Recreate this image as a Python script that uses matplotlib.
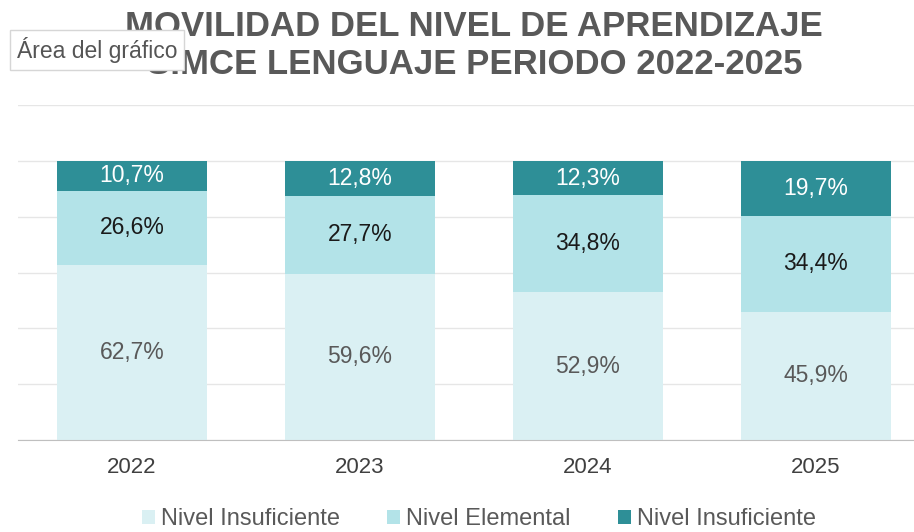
import numpy as np
import matplotlib.pyplot as plt

years = ['2022', '2023', '2024', '2025']
insuficiente = [62.7, 59.6, 52.9, 45.9]
elemental = [26.6, 27.7, 34.8, 34.4]
adecuado = [10.7, 12.8, 12.3, 19.7]
legend_labels = ['Nivel Insuficiente', 'Nivel Elemental', 'Nivel Insuficiente']

colors = ['#DAF0F3', '#B3E3E8', '#2E8F97']
text_colors = ['#595959', '#1A1A1A', '#FFFFFF']

plt.rcParams['font.family'] = ['Liberation Sans', 'DejaVu Sans']

fig = plt.figure(figsize=(9.14, 5.32), dpi=100)
ax = fig.add_axes([18 / 914, 92 / 532, 896 / 914, 335 / 532])

x = np.arange(len(years))
bottom = np.zeros(len(years))
for vals, col, tcol, lab in zip([insuficiente, elemental, adecuado], colors, text_colors, legend_labels):
    vals = np.array(vals)
    ax.bar(x, vals, bottom=bottom, width=0.66, color=col, label=lab, zorder=2)
    for xi, b, v in zip(x, bottom, vals):
        ax.text(xi, b + v / 2, f'{v:.1f}%'.replace('.', ','), ha='center', va='center',
                fontsize=16.5, color=tcol, zorder=3)
    bottom += vals

ax.set_ylim(0, 120)
ax.set_xlim(-0.5, 3.43)
ax.set_yticks(np.arange(0, 121, 20))
ax.yaxis.grid(True, color='#E6E6E6', linewidth=1, zorder=0)
ax.tick_params(axis='y', left=False, labelleft=False)
ax.tick_params(axis='x', length=0, labelsize=16, labelcolor='#404040', pad=12)
ax.set_xticks(x)
ax.set_xticklabels(years)
for s in ['top', 'right', 'left']:
    ax.spines[s].set_visible(False)
ax.spines['bottom'].set_color('#BFBFBF')

fig.text(0.519, 1 - 26 / 532, 'MOVILIDAD DEL NIVEL DE APRENDIZAJE', ha='center', va='center',
         fontsize=25, fontweight='bold', color='#595959')
fig.text(0.519, 1 - 64 / 532, 'SIMCE LENGUAJE PERIODO 2022-2025', ha='center', va='center',
         fontsize=25, fontweight='bold', color='#595959')

# tooltip overlay
fig.text(17 / 914, 1 - 50 / 532, 'Área del gráfico', ha='left', va='center', fontsize=16.5,
         color='#555555',
         bbox=dict(boxstyle='square,pad=0.3', facecolor='white', edgecolor='#D6D6D6'))

fig.legend(loc='center', bbox_to_anchor=(0.524, 1 - 519 / 532), ncol=3, frameon=False,
           handlelength=0.55, handleheight=0.55, handletextpad=0.25,
           columnspacing=2.0, labelcolor='#595959', prop={'size': 17})

fig.savefig('out.png', dpi=100)
